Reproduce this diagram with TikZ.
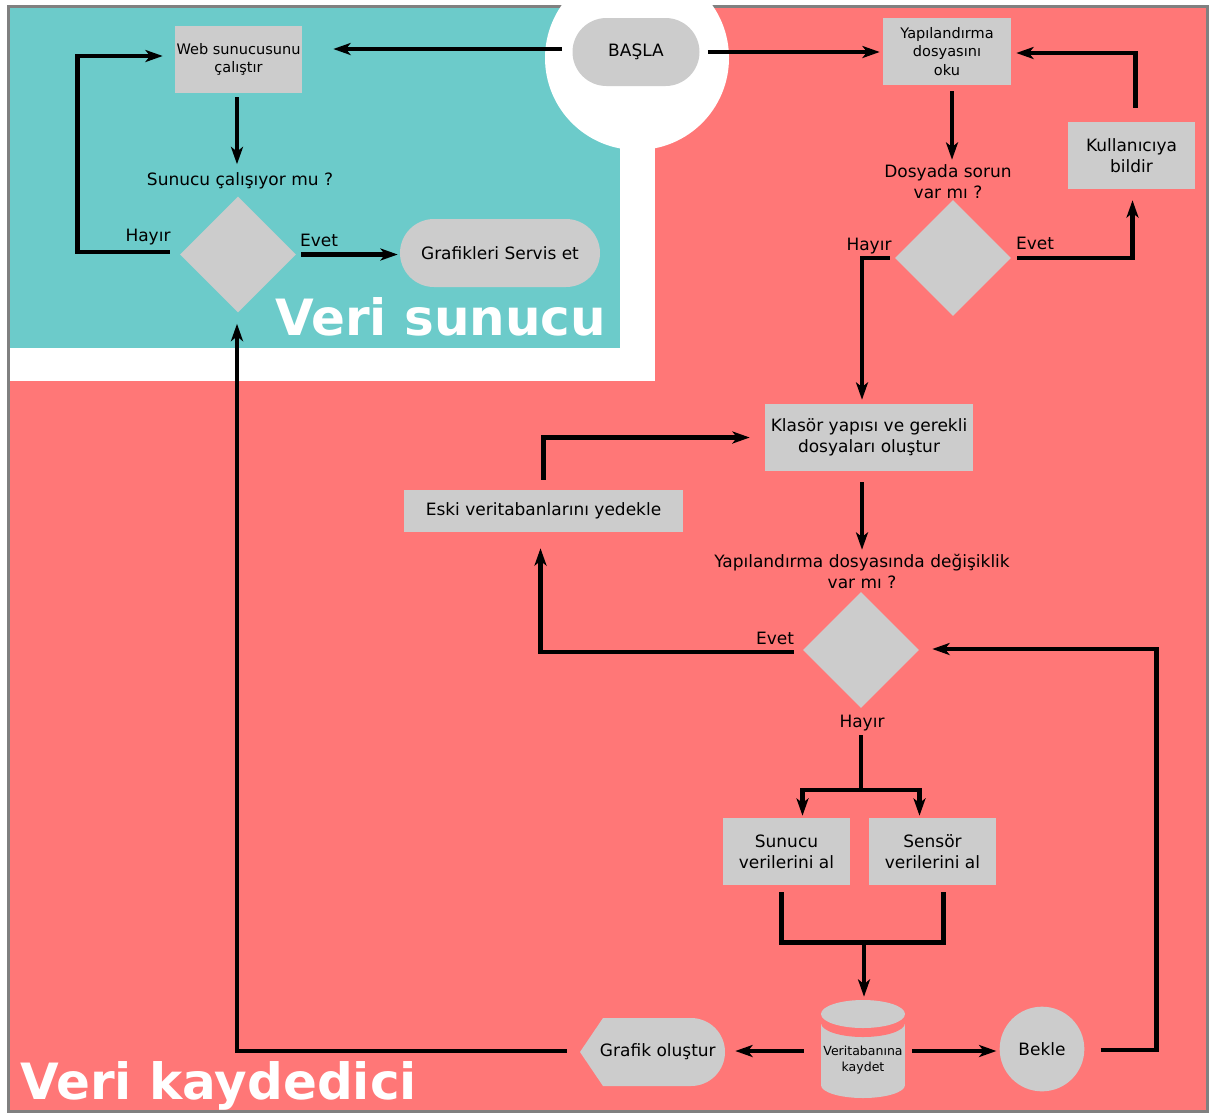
\documentclass[tikz,border=0pt]{standalone}
\usepackage{fontspec}
\setmainfont{DejaVu Sans}
\usetikzlibrary{shapes.geometric,arrows.meta,calc}
\definecolor{redbg}{RGB}{255,119,119}
\definecolor{cyanbg}{RGB}{108,203,202}
\definecolor{nodegray}{RGB}{204,204,204}
\definecolor{framegray}{RGB}{128,128,128}
\begin{document}
\begin{tikzpicture}[x=0.75pt,y=-0.75pt,
  box/.style={fill=nodegray, draw=none, align=center, inner sep=0pt,
    font=\fontsize{12.75}{16}\selectfont, minimum width=95.25pt, minimum height=50.25pt},
  smalltext/.style={font=\fontsize{10.9}{13.8}\selectfont},
  term/.style={box, rounded corners=25.5pt, minimum height=51pt},
  dia/.style={diamond, fill=nodegray, draw=none, inner sep=0pt, aspect=1,
    minimum width=87pt, minimum height=87pt},
  lbl/.style={font=\fontsize{12.75}{15.75}\selectfont, inner sep=0pt, align=center},
  title/.style={font=\bfseries\fontsize{37.5}{45}\selectfont, text=white, inner sep=0pt, anchor=base west},
  conn/.style={line width=3.4pt, black},
  arr/.style={conn, -{Stealth[length=13pt,width=9pt,inset=3.5pt]}}]
\useasboundingbox (0,0) rectangle (1210,1115);
% backgrounds
\fill[redbg] (8,6) rectangle (1208,1112);
\fill[white] (8,6) rectangle (655,381);
\fill[cyanbg] (10,8) rectangle (620,348);
\draw[framegray, line width=2.25pt] (8.5,6.5) rectangle (1207.5,1111.5);
\begin{scope}
  \clip (0,0) rectangle (1210,1115);
  \fill[white] (637,58) circle[radius=69pt];
\end{scope}
% titles
\node[title] (t1) at (275,335) {Veri sunucu};
\node[title] (t2) at (20,1099) {Veri kaydedici};
% nodes - Veri sunucu
\node[term, minimum width=95.25pt] (basla) at (636,52) {BAŞLA};
\node[box, smalltext] (web) at (238.5,59.5) {Web sunucusunu\\çalıştır};
\node[lbl] (q1) at (240,181) {Sunucu çalışıyor mu ?};
\node[dia] (d1) at (238,254.5) {};
\node[lbl] (h1) at (148,237) {Hayır};
\node[lbl] (e1) at (319,240) {Evet};
\node[term, minimum width=150pt] (graf) at (500,253) {Grafikleri Servis et};
% nodes - right
\node[box, smalltext, minimum width=96pt] (yap) at (947,51.5) {Yapılandırma\\dosyasını\\oku};
\node[box] (kul) at (1131.5,155.5) {Kullanıcıya\\bildir};
\node[lbl] (q2) at (948,182) {Dosyada sorun\\var mı ?};
\node[dia] (d2) at (953,258) {};
\node[lbl] (h2) at (869,246) {Hayır};
\node[lbl] (e2) at (1035,243) {Evet};
\node[box, minimum width=156pt] (kla) at (869,437.5) {Klasör yapısı ve gerekli\\dosyaları oluştur};
\node[box, minimum width=209.25pt, minimum height=31.5pt] (eski) at (543.5,511) {Eski veritabanlarını yedekle};
\node[lbl] (q3) at (862,571) {Yapılandırma dosyasında değişiklik\\var mı ?};
\node[dia] (d3) at (861,650) {};
\node[lbl] (e3) at (775,638) {Evet};
\node[lbl] (h3) at (862,723) {Hayır};
\node[box] (sun) at (786.5,851.5) {Sunucu\\verilerini al};
\node[box] (sen) at (932.5,851.5) {Sensör\\verilerini al};
% cylinder
\fill[nodegray] (821,1023) rectangle (905,1085);
\fill[nodegray] (863,1085) ellipse[x radius=31.5pt, y radius=9.75pt];
\fill[redbg] (863,1023) ellipse[x radius=31.5pt, y radius=10.5pt];
\fill[nodegray] (863,1014) ellipse[x radius=31.5pt, y radius=10.5pt];
\node[minimum width=63pt, minimum height=73.5pt, inner sep=0pt] (db) at (863,1049) {};
\node[lbl, font=\fontsize{9.4}{12}\selectfont] (dbt) at (863,1060) {Veritabanına\\kaydet};
% Bekle
\node[circle, fill=nodegray, minimum size=63.5pt, inner sep=0pt,
  font=\fontsize{12.75}{15.75}\selectfont] (bek) at (1042,1049) {Bekle};
% Grafik oluştur
\fill[nodegray] (580,1052) -- (603,1018) -- (691,1018)
  .. controls (709.8,1018) and (725,1033.2) .. (725,1052)
  .. controls (725,1070.8) and (709.8,1086) .. (691,1086)
  -- (603,1086) -- cycle;
\node[minimum width=108.75pt, minimum height=51pt, inner sep=0pt,
  font=\fontsize{12.75}{15.75}\selectfont] (gro) at (652.5,1052) {\hspace{8pt}Grafik oluştur};
% connectors
\draw[arr] ($(basla.west)+(-10,-3)$) -- ($(web.east)+(31,-10.5)$);
\draw[arr] ($(basla.east)+(8,0)$) -- ($(yap.west)+(-3,0.5)$);
\draw[arr] ($(web.south)+(-1.5,4)$) -- ($(d1.north)+(-1,-32)$);
\draw[arr] ($(d1.west)+(-10,-2.5)$) -- ++(-92,0) |- ($(web.west)+(-12,-3.5)$);
\draw[arr] ($(d1.east)+(5,0)$) -- ($(graf.west)+(-2,1.5)$);
\draw[arr] ($(gro.west)+(-13,-1)$) -| ($(d1.south)+(-1,11)$);
\draw[arr] ($(yap.south)+(5,6)$) -- ($(d2.north)+(-1,-40)$);
\draw[arr] ($(d2.east)+(6,0)$) -| ($(kul.south)+(1,11)$);
\draw[arr] ($(kul.north)+(4,-14)$) |- ($(yap.east)+(5,1.5)$);
\draw[arr] ($(d2.west)+(-5,0)$) -| ($(kla.north)+(-7,-4)$);
\draw[arr] ($(kla.south)+(-7,11)$) -- ($(d3.north)+(1,-42)$);
\draw[arr] ($(d3.west)+(-9,2)$) -| ($(eski.south)+(-3,16)$);
\draw[arr] ($(eski.north)+(0,-10)$) |- ($(kla.west)+(-15,0)$);
\draw[conn] ($(d3.south)+(0,27)$) -- ++(0,53) coordinate (split);
\draw[arr] ($(split)+(0,1.5)$) -| ($(sun.north)+(16,-2)$);
\draw[arr] ($(split)+(0,1.5)$) -| ($(sen.north)+(-13,-2)$);
\draw[conn] ($(sun.south)+(-5,7)$) -- ++(0,50) coordinate (join) -| ($(sen.south)+(11,7)$);
\draw[arr] ($(db.north |- join)+(1,0)$) -- ($(db.north)+(1,-3)$);
\draw[arr] ($(db.west)+(-17,2)$) -- ($(gro.east)+(10,-1)$);
\draw[arr] ($(db.east)+(7,2)$) -- ($(bek.west)+(-3,2)$);
\draw[arr] ($(bek.east)+(16,1)$) -- ++(56,0) |- ($(d3.east)+(13,-1)$);
\end{tikzpicture}
\end{document}
